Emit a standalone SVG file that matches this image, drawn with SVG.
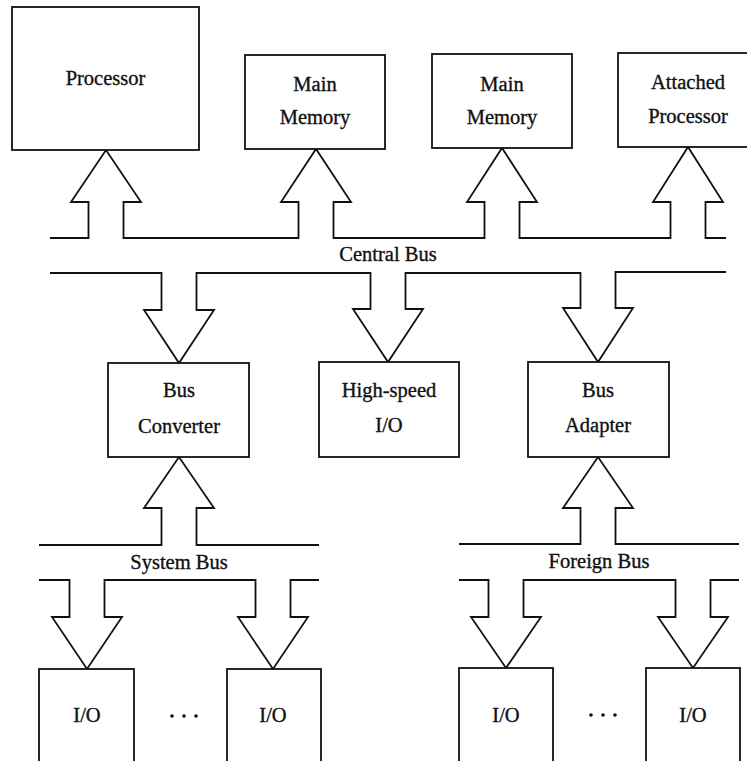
<svg xmlns="http://www.w3.org/2000/svg" width="747" height="761" viewBox="0 0 747 761">
  <style>
    .box { fill: #ffffff; stroke: #111111; stroke-width: 1.8; }
    .bus { fill: none; stroke: #111111; stroke-width: 1.8; stroke-linejoin: miter; }
    .lbl { font-family: "Liberation Serif", "Times New Roman", serif; font-size: 20.5px; fill: #111111; stroke: #111111; stroke-width: 0.35; text-anchor: middle; }
    .dot { fill: #111111; }
  </style>
  <rect width="747" height="761" fill="#ffffff"/>

  <!-- bus lines with their wide arrow taps -->
  <g id="connectors">
    <!-- central bus, upper side: taps up to processor, memories, attached processor -->
    <path class="bus" d="M50,238 H88.5 V202 H71 L106,150 L141,202 H123.5 V238 H298.5 V202 H281 L316,149 L351,202 H333.5 V238 H484.5 V202 H467 L502,148 L537,202 H519.5 V238 H670.5 V202 H653 L688,147 L723,202 H705.5 V238 H726"/>
    <!-- central bus, lower side: taps down to converter, high-speed I/O, adapter -->
    <path class="bus" d="M50,273 H161.5 V310 H144 L179,363 L214,310 H196.5 V273 H370.5 V309 H353 L388,362 L423,309 H405.5 V273 H580.5 V308 H563 L598,362 L633,308 H615.5 V272 H726"/>
    <!-- system bus, upper side -->
    <path class="bus" d="M39,545 H161.5 V508 H144 L179,457 L214,508 H196.5 V545 H319"/>
    <!-- system bus, lower side -->
    <path class="bus" d="M39,580 H69.5 V617 H52 L87,669 L122,617 H104.5 V580 H255.5 V617 H238 L273,669 L308,617 H290.5 V580 H319"/>
    <!-- foreign bus, upper side -->
    <path class="bus" d="M459,544 H580.5 V508 H563 L598,457 L633,508 H615.5 V544 H739"/>
    <!-- foreign bus, lower side -->
    <path class="bus" d="M459,580 H488.5 V617 H471 L506,668 L541,617 H523.5 V580 H675.5 V617 H658 L693,668 L728,617 H710.5 V580 H739"/>
  </g>

  <text class="lbl" x="388" y="261">Central Bus</text>
  <text class="lbl" x="179" y="569">System Bus</text>
  <text class="lbl" x="599" y="568">Foreign Bus</text>

  <g id="processor">
    <rect class="box" x="12" y="7" width="187" height="143"/>
    <text class="lbl" x="105.5" y="85">Processor</text>
  </g>
  <g id="main-memory-1">
    <rect class="box" x="245" y="55" width="140" height="94"/>
    <text class="lbl" x="315" y="91">Main</text>
    <text class="lbl" x="315" y="124">Memory</text>
  </g>
  <g id="main-memory-2">
    <rect class="box" x="432" y="54" width="140" height="94"/>
    <text class="lbl" x="502" y="91">Main</text>
    <text class="lbl" x="502" y="124">Memory</text>
  </g>
  <g id="attached-processor">
    <rect class="box" x="618" y="53" width="142" height="94"/>
    <text class="lbl" x="688" y="89">Attached</text>
    <text class="lbl" x="688" y="123">Processor</text>
  </g>

  <g id="bus-converter">
    <rect class="box" x="108" y="363" width="141" height="94"/>
    <text class="lbl" x="179" y="397">Bus</text>
    <text class="lbl" x="179" y="433">Converter</text>
  </g>
  <g id="high-speed-io">
    <rect class="box" x="319" y="362" width="140" height="95"/>
    <text class="lbl" x="389" y="397">High-speed</text>
    <text class="lbl" x="389" y="432">I/O</text>
  </g>
  <g id="bus-adapter">
    <rect class="box" x="528" y="362" width="141" height="95"/>
    <text class="lbl" x="598" y="397">Bus</text>
    <text class="lbl" x="598" y="432">Adapter</text>
  </g>

  <g id="io-system-1">
    <rect class="box" x="39" y="669" width="95" height="110"/>
    <text class="lbl" x="87" y="722">I/O</text>
  </g>
  <g id="io-system-dots">
    <circle class="dot" cx="172" cy="716" r="1.8"/>
    <circle class="dot" cx="184" cy="716" r="1.8"/>
    <circle class="dot" cx="196" cy="716" r="1.8"/>
  </g>
  <g id="io-system-n">
    <rect class="box" x="227" y="669" width="94" height="110"/>
    <text class="lbl" x="273" y="722">I/O</text>
  </g>
  <g id="io-foreign-1">
    <rect class="box" x="459" y="668" width="94" height="110"/>
    <text class="lbl" x="506" y="722">I/O</text>
  </g>
  <g id="io-foreign-dots">
    <circle class="dot" cx="591" cy="715" r="1.8"/>
    <circle class="dot" cx="603" cy="715" r="1.8"/>
    <circle class="dot" cx="615" cy="715" r="1.8"/>
  </g>
  <g id="io-foreign-n">
    <rect class="box" x="646" y="668" width="94" height="110"/>
    <text class="lbl" x="693" y="722">I/O</text>
  </g>
</svg>
